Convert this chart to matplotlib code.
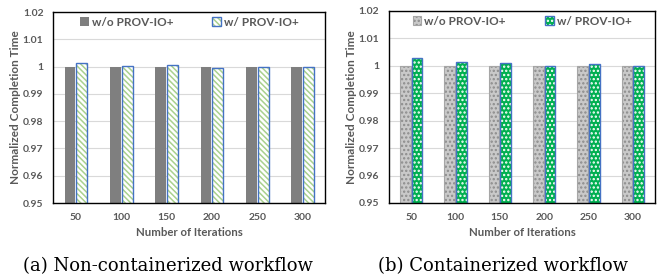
import numpy as np
import matplotlib.pyplot as plt
from matplotlib.patches import Patch
from matplotlib.legend_handler import HandlerTuple

iterations = ["50", "100", "150", "200", "250", "300"]
noncont_without = [1.0, 1.0, 1.0, 1.0, 1.0, 1.0]
noncont_with = [1.0013, 1.0004, 1.0007, 0.9994, 0.9997, 0.9997]
cont_without = [1.0, 1.0, 1.0, 1.0, 1.0, 1.0]
cont_with = [1.003, 1.0014, 1.001, 1.0001, 1.0007, 0.9999]
yticks = [0.95, 0.96, 0.97, 0.98, 0.99, 1.0, 1.01, 1.02]
ytick_labels = ["0.95", "0.96", "0.97", "0.98", "0.99", "1", "1.01", "1.02"]

plt.rcParams['font.family'] = ['Lato', 'DejaVu Sans']
plt.rcParams['hatch.linewidth'] = 1.1
txt = '#595959'

fig = plt.figure(figsize=(6.57, 2.8), dpi=100)
ax1 = fig.add_axes([0.081, 0.275, 0.414, 0.682])
ax2 = fig.add_axes([0.592, 0.275, 0.405, 0.686])

x = np.arange(len(iterations))
w = 0.24
off = 0.13
stripes = '\\\\\\\\\\\\'


def style(ax):
    ax.set_ylim(0.95, 1.02)
    ax.set_xlim(-0.5, len(iterations) - 0.5)
    ax.set_yticks(yticks)
    ax.set_yticklabels(ytick_labels)
    ax.set_xticks(x)
    ax.set_xticklabels(iterations)
    ax.tick_params(length=0, labelsize=7.5, colors=txt, pad=7)
    for lab in ax.get_xticklabels() + ax.get_yticklabels():
        lab.set_fontweight('bold')
    ax.grid(axis='y', color='#d9d9d9', linewidth=0.8)
    ax.set_axisbelow(True)
    for s in ax.spines.values():
        s.set_color('black')
        s.set_linewidth(1.0)
    ax.set_ylabel("Normalized Completion Time", fontsize=8.5, fontweight='bold', color=txt, labelpad=1)
    ax.set_xlabel("Number of Iterations", fontsize=8.2, fontweight='bold', color=txt, labelpad=4)


def legend(ax, handles):
    ax.legend(handles, ['w/o PROV-IO+', 'w/ PROV-IO+'], ncol=2, loc='upper center',
              frameon=False, prop={'weight': 'bold', 'size': 8.5},
              handler_map={tuple: HandlerTuple(ndivide=1, pad=0)},
              handlelength=0.75, handleheight=0.75, handletextpad=0.25, columnspacing=3.3,
              bbox_to_anchor=(0.5, 1.03), labelcolor=txt)


# (a) non-containerized
ax1.bar(x - off, noncont_without, w, color='#7f7f7f')
ax1.bar(x + off, noncont_with, w, color='white', edgecolor='#a9d18e', hatch=stripes, linewidth=0)
ax1.bar(x + off, noncont_with, w, color='none', edgecolor='#4472c4', linewidth=1.0)
style(ax1)
legend(ax1, [Patch(facecolor='#7f7f7f'),
             (Patch(facecolor='white', edgecolor='#a9d18e', hatch=stripes, linewidth=0),
              Patch(facecolor='none', edgecolor='#4472c4', linewidth=1.0))])

# (b) containerized
ax2.bar(x - off, cont_without, w, color='#c9c9c9', edgecolor='#8c8c8c', hatch='....', linewidth=0)
ax2.bar(x - off, cont_without, w, color='none', edgecolor='#a6a6a6', linewidth=0.8)
ax2.bar(x + off, cont_with, w, color='#00b050', edgecolor='white', hatch='....', linewidth=0)
ax2.bar(x + off, cont_with, w, color='none', edgecolor='#4472c4', linewidth=1.0)
style(ax2)
legend(ax2, [(Patch(facecolor='#c9c9c9', edgecolor='#8c8c8c', hatch='....', linewidth=0),
              Patch(facecolor='none', edgecolor='#a6a6a6', linewidth=0.8)),
             (Patch(facecolor='#00b050', edgecolor='white', hatch='....', linewidth=0),
              Patch(facecolor='none', edgecolor='#4472c4', linewidth=1.0))])

fig.text(168 / 657, 1 - 266 / 280, "(a) Non-containerized workflow", ha='center', va='center',
         fontsize=13, family='DejaVu Serif')
fig.text(503 / 657, 1 - 266 / 280, "(b) Containerized workflow", ha='center', va='center',
         fontsize=13, family='DejaVu Serif')

fig.savefig('out.png', dpi=100)
